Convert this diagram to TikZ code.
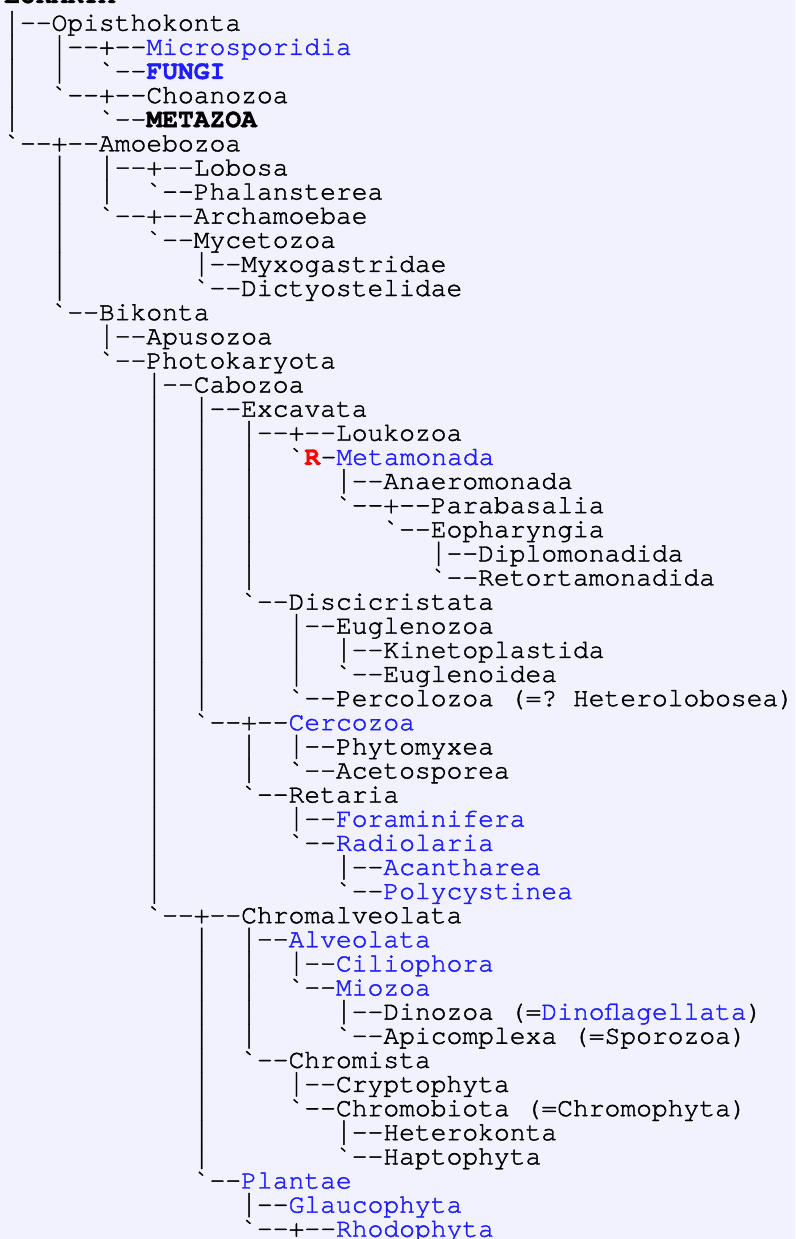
\documentclass[tikz,border=0pt]{standalone}
\usepackage{fontspec}
\setmonofont{TeX Gyre Cursor}[FakeBold=1.5]
\definecolor{pagebg}{RGB}{242,242,255}
\definecolor{linkblue}{RGB}{30,30,255}
\definecolor{rankred}{RGB}{255,0,0}
% taxon names that carry a link
\newcommand\lnk[1]{\textcolor{linkblue}{#1}}
% the bar character, stretched to one full line so that bars join
\newsavebox\barbox
\newcommand\vb{\sbox\barbox{|}\raisebox{-4.5pt}{\resizebox{\wd\barbox}{24pt}{\raisebox{\dp\barbox}{\usebox\barbox}}}}
% one line of the tree: name, starting column, line number, text
\newcommand\trow[4]{\node[treerow] (#1) at ({4pt+#2*15.8pt},{-30.7pt-(#3-1)*24.12pt}) {#4};}
\begin{document}
\begin{tikzpicture}[x=1pt,y=1pt,
  treerow/.style={anchor=base west, inner sep=0pt, text height=17pt, text depth=5pt,
    font=\fontsize{26.33pt}{24.12pt}\selectfont\ttfamily}]
\fill[pagebg] (0,0) rectangle (795,-1239);
\useasboundingbox (0,0) rectangle (795,-1239);
\clip (0,0) rectangle (795,-1239);
\node[treerow] (eukarya) at (4,-3) {\textbf{EUKARYA}};
\trow{opisthokonta}{0}{1}{\vb--Opisthokonta}
\trow{microsporidia}{0}{2}{\vb~~\vb--+--\lnk{Microsporidia}}
\trow{fungi}{0}{3}{\vb~~\vb~~`--\lnk{\textbf{FUNGI}}}
\trow{choanozoa}{0}{4}{\vb~~`--+--Choanozoa}
\trow{metazoa}{0}{5}{\vb~~~~~`--\textbf{METAZOA}}
\trow{amoebozoa}{0}{6}{`--+--Amoebozoa}
\trow{lobosa}{3}{7}{\vb~~\vb--+--Lobosa}
\trow{phalansterea}{3}{8}{\vb~~\vb~~`--Phalansterea}
\trow{archamoebae}{3}{9}{\vb~~`--+--Archamoebae}
\trow{mycetozoa}{3}{10}{\vb~~~~~`--Mycetozoa}
\trow{myxogastridae}{3}{11}{\vb~~~~~~~~\vb--Myxogastridae}
\trow{dictyostelidae}{3}{12}{\vb~~~~~~~~`--Dictyostelidae}
\trow{bikonta}{3}{13}{`--Bikonta}
\trow{apusozoa}{6}{14}{\vb--Apusozoa}
\trow{photokaryota}{6}{15}{`--Photokaryota}
\trow{cabozoa}{9}{16}{\vb--Cabozoa}
\trow{excavata}{9}{17}{\vb~~\vb--Excavata}
\trow{loukozoa}{9}{18}{\vb~~\vb~~\vb--+--Loukozoa}
\trow{metamonada}{9}{19}{\vb~~\vb~~\vb~~`\textcolor{rankred}{\textbf{R}}-\lnk{Metamonada}}
\trow{anaeromonada}{9}{20}{\vb~~\vb~~\vb~~~~~\vb--Anaeromonada}
\trow{parabasalia}{9}{21}{\vb~~\vb~~\vb~~~~~`--+--Parabasalia}
\trow{eopharyngia}{9}{22}{\vb~~\vb~~\vb~~~~~~~~`--Eopharyngia}
\trow{diplomonadida}{9}{23}{\vb~~\vb~~\vb~~~~~~~~~~~\vb--Diplomonadida}
\trow{retortamonadida}{9}{24}{\vb~~\vb~~\vb~~~~~~~~~~~`--Retortamonadida}
\trow{discicristata}{9}{25}{\vb~~\vb~~`--Discicristata}
\trow{euglenozoa}{9}{26}{\vb~~\vb~~~~~\vb--Euglenozoa}
\trow{kinetoplastida}{9}{27}{\vb~~\vb~~~~~\vb~~\vb--Kinetoplastida}
\trow{euglenoidea}{9}{28}{\vb~~\vb~~~~~\vb~~`--Euglenoidea}
\trow{percolozoa}{9}{29}{\vb~~\vb~~~~~`--Percolozoa~(=?~Heterolobosea)}
\trow{cercozoa}{9}{30}{\vb~~`--+--\lnk{Cercozoa}}
\trow{phytomyxea}{9}{31}{\vb~~~~~\vb~~\vb--Phytomyxea}
\trow{acetosporea}{9}{32}{\vb~~~~~\vb~~`--Acetosporea}
\trow{retaria}{9}{33}{\vb~~~~~`--Retaria}
\trow{foraminifera}{9}{34}{\vb~~~~~~~~\vb--\lnk{Foraminifera}}
\trow{radiolaria}{9}{35}{\vb~~~~~~~~`--\lnk{Radiolaria}}
\trow{acantharea}{9}{36}{\vb~~~~~~~~~~~\vb--\lnk{Acantharea}}
\trow{polycystinea}{9}{37}{\vb~~~~~~~~~~~`--\lnk{Polycystinea}}
\trow{chromalveolata}{9}{38}{`--+--Chromalveolata}
\trow{alveolata}{12}{39}{\vb~~\vb--\lnk{Alveolata}}
\trow{ciliophora}{12}{40}{\vb~~\vb~~\vb--\lnk{Ciliophora}}
\trow{miozoa}{12}{41}{\vb~~\vb~~`--\lnk{Miozoa}}
\trow{dinozoa}{12}{42}{\vb~~\vb~~~~~\vb--Dinozoa~(=\lnk{Dinoflagellata})}
\trow{apicomplexa}{12}{43}{\vb~~\vb~~~~~`--Apicomplexa~(=Sporozoa)}
\trow{chromista}{12}{44}{\vb~~`--Chromista}
\trow{cryptophyta}{12}{45}{\vb~~~~~\vb--Cryptophyta}
\trow{chromobiota}{12}{46}{\vb~~~~~`--Chromobiota~(=Chromophyta)}
\trow{heterokonta}{12}{47}{\vb~~~~~~~~\vb--Heterokonta}
\trow{haptophyta}{12}{48}{\vb~~~~~~~~`--Haptophyta}
\trow{plantae}{12}{49}{`--\lnk{Plantae}}
\trow{glaucophyta}{15}{50}{\vb--\lnk{Glaucophyta}}
\trow{rhodophyta}{15}{51}{`--+--\lnk{Rhodophyta}}
\end{tikzpicture}
\end{document}
